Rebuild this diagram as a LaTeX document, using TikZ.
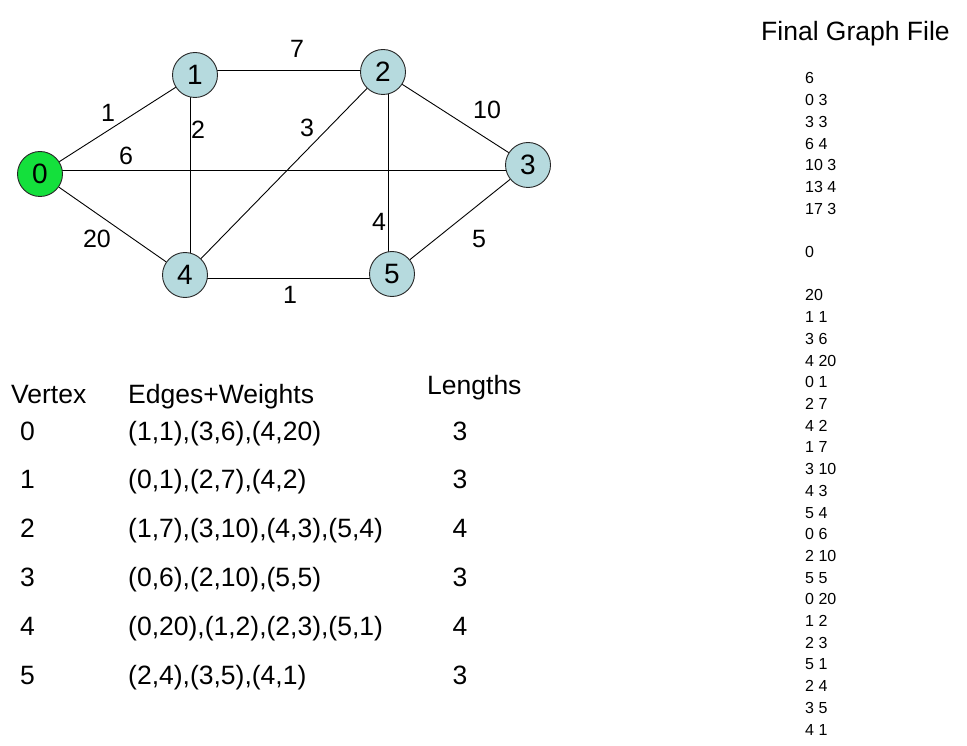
\documentclass[tikz,border=0pt]{standalone}
\usepackage{fontspec}
\setmainfont{Liberation Sans}
\usetikzlibrary{backgrounds}
\definecolor{vgreen}{RGB}{20,224,60}
\definecolor{vblue}{RGB}{182,218,222}
\tikzset{
  vert/.style={circle, draw=black!85, line width=0.9pt, fill=vblue, minimum size=45pt, inner sep=0pt, font=\fontsize{28}{28}\selectfont},
  startvert/.style={vert, fill=vgreen},
  edge/.style={draw=black, line width=0.9pt},
  wlabel/.style={font=\fontsize{25}{25}\selectfont, inner sep=0pt},
  tabtext/.style={font=\fontsize{26.5}{26.5}\selectfont, inner sep=0pt},
  filetext/.style={font=\fontsize{16}{16}\selectfont, inner sep=0pt, anchor=base west}
}
\begin{document}
\begin{tikzpicture}[x=1pt,y=-1pt]
\useasboundingbox (0,0) rectangle (967,746);
% vertices
\node[startvert] (v0) at (40,174) {0};
\node[vert] (v1) at (195,75) {1};
\node[vert] (v2) at (383,72) {2};
\node[vert] (v3) at (528,165) {3};
\node[vert] (v4) at (185,275) {4};
\node[vert] (v5) at (392,274) {5};
% guide coordinates for the axis-parallel connectors
\coordinate (x14) at (190,0);
\coordinate (x25) at (388,0);
\coordinate (y03) at (0,170);
\coordinate (y12) at (0,70);
\coordinate (y45) at (0,278);
% edges
\begin{pgfonlayer}{background}
\fill[white] (0,0) rectangle (967,746);
\draw[edge] (v0) -- (v1);
\draw[edge] (v0 |- y03) -- (v3 |- y03);
\draw[edge] (v0) -- (v4);
\draw[edge] (v1 |- y12) -- (v2 |- y12);
\draw[edge] (v1 -| x14) -- (v4 -| x14);
\draw[edge] (v2) -- (v3);
\draw[edge] (v2) -- (v4);
\draw[edge] (v2 -| x25) -- (v5 -| x25);
\draw[edge] (v3) -- (v5);
\draw[edge] (v4 |- y45) -- (v5 |- y45);
\end{pgfonlayer}
% weights
\node[wlabel] (w12) at (297,49) {7};
\node[wlabel] (w01) at (108,113) {1};
\node[wlabel] (w14) at (198,130) {2};
\node[wlabel] (w24) at (307,128) {3};
\node[wlabel] (w23) at (487,110) {10};
\node[wlabel] (w03) at (126,156) {6};
\node[wlabel] (w04) at (97,239) {20};
\node[wlabel] (w25) at (379,222) {4};
\node[wlabel] (w35) at (479,239) {5};
\node[wlabel] (w45) at (290,295) {1};
% table headers
\node[tabtext, anchor=base west] (hv) at (11,403) {Vertex};
\node[tabtext, anchor=base west] (he) at (128,403) {Edges+Weights};
\node[tabtext, anchor=base west] (hl) at (427,394) {Lengths};
% table rows
\foreach \i/\v/\e/\l in {0/0/{(1,1),(3,6),(4,20)}/3, 1/1/{(0,1),(2,7),(4,2)}/3, 2/2/{(1,7),(3,10),(4,3),(5,4)}/4, 3/3/{(0,6),(2,10),(5,5)}/3, 4/4/{(0,20),(1,2),(2,3),(5,1)}/4, 5/5/{(2,4),(3,5),(4,1)}/3}{
  \node[tabtext, anchor=base west] (rv\i) at (20,440+48.8*\i) {\v};
  \node[tabtext, anchor=base west] (re\i) at (128,440+48.8*\i) {\e};
  \node[tabtext, anchor=base] (rl\i) at (460,440+48.8*\i) {\l};
}
% final graph file
\node[tabtext, anchor=base west] (ft) at (761,41) {Final Graph File};
\foreach \i/\t in {0/6, 1/0 3, 2/3 3, 3/6 4, 4/10 3, 5/13 4, 6/17 3, 8/0, 10/20, 11/1 1, 12/3 6, 13/4 20, 14/0 1, 15/2 7, 16/4 2, 17/1 7, 18/3 10, 19/4 3, 20/5 4, 21/0 6, 22/2 10, 23/5 5, 24/0 20, 25/1 2, 26/2 3, 27/5 1, 28/2 4, 29/3 5, 30/4 1}{
  \node[filetext] (f\i) at (805,84+21.7*\i) {\t};
}
\end{tikzpicture}
\end{document}
